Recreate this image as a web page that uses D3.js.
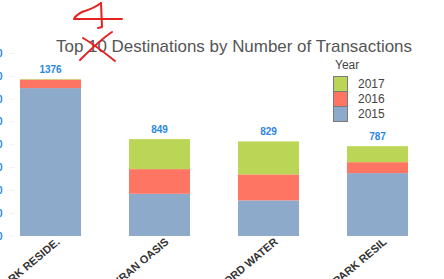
<!DOCTYPE html>
<html><head><meta charset="utf-8">
<script src="https://cdn.jsdelivr.net/npm/d3@7"></script>
<style>html,body{margin:0;padding:0;background:#fff;overflow:hidden}svg{display:block}</style>
</head><body>
<svg id="chart" width="444" height="279"></svg>
<script>
const categories = ["PARK RESIDE.", "SKYRAN OASIS", "FORD WATER", "PARK RESIL"];
const years = ["2015", "2016", "2017"];
const values2015 = [1296, 370, 312, 551];
const values2016 = [75, 216, 228, 96];
const values2017 = [5, 263, 289, 140];
const totals = [1376, 849, 829, 787];
const yTicks = [0, 200, 400, 600, 800, 1000, 1200, 1400, 1600];
const colors = {"2015": "#8eaacb", "2016": "#ff7563", "2017": "#bbd657"};
const titleText = "Top 10 Destinations by Number of Transactions";

const svg = d3.select("#chart");
const x = d3.scaleBand().domain(categories).range([-4, 432]).paddingInner(0.44).paddingOuter(0.22);
const y = d3.scaleLinear().domain([0, 1600]).range([236, 53.4]);

const rows = categories.map((c, i) => ({cat: c, "2015": values2015[i], "2016": values2016[i], "2017": values2017[i]}));
const stacked = d3.stack().keys(years)(rows);

// faint ticks
svg.append("g").selectAll("line").data(yTicks).join("line")
  .attr("x1", 9).attr("x2", 15).attr("y1", d => y(d)).attr("y2", d => y(d))
  .attr("stroke", "#eef2f6").attr("stroke-width", 1);
// tick labels (mostly cut off at left edge, as in the reference)
svg.append("g").selectAll("text").data(yTicks).join("text")
  .attr("x", 2.5).attr("y", d => y(d) + 3.5).attr("text-anchor", "end")
  .attr("font-family", "Liberation Sans, Arial, sans-serif").attr("font-size", 10).attr("font-weight", "bold")
  .attr("fill", "#2b86e2").text(d => d);

// bars
svg.append("g").selectAll("g").data(stacked).join("g")
  .attr("fill", d => colors[d.key])
  .selectAll("rect").data(d => d).join("rect")
  .attr("x", d => x(d.data.cat)).attr("width", x.bandwidth())
  .attr("y", d => y(d[1])).attr("height", d => y(d[0]) - y(d[1]));

// value labels
svg.append("g").selectAll("text").data(categories).join("text")
  .attr("x", d => x(d) + x.bandwidth() / 2).attr("y", (d, i) => y(totals[i]) - 6)
  .attr("text-anchor", "middle").attr("font-family", "Liberation Sans, Arial, sans-serif")
  .attr("font-size", 10).attr("font-weight", "bold").attr("fill", "#2b86e2")
  .text((d, i) => totals[i]);

// x labels
svg.append("g").selectAll("text").data(categories).join("text")
  .attr("transform", d => `translate(${x(d) + x.bandwidth() / 2 + 10},243) rotate(-40)`)
  .attr("text-anchor", "end").attr("font-family", "Liberation Sans, Arial, sans-serif")
  .attr("font-size", 11).attr("font-weight", "bold").attr("fill", "#333")
  .text(d => d);

// title
svg.append("text").attr("x", 56).attr("y", 52)
  .attr("font-family", "Liberation Sans, Arial, sans-serif").attr("font-size", 17).attr("fill", "#555")
  .attr("textLength", 356).attr("lengthAdjust", "spacingAndGlyphs")
  .text(titleText);

// legend
const lg = svg.append("g");
lg.append("text").attr("x", 335).attr("y", 69).attr("font-family", "Liberation Sans, Arial, sans-serif")
  .attr("font-size", 12).attr("fill", "#444").text("Year");
const legendYears = ["2017", "2016", "2015"];
lg.selectAll("rect").data(legendYears).join("rect")
  .attr("x", 333.5).attr("y", (d, i) => 76.5 + i * 15).attr("width", 14).attr("height", 15)
  .attr("fill", d => colors[d]).attr("stroke", "#7a7a7a").attr("stroke-width", 1);
lg.selectAll("text.l").data(legendYears).join("text").attr("class", "l")
  .attr("x", 358).attr("y", (d, i) => 88 + i * 15).attr("font-family", "Liberation Sans, Arial, sans-serif")
  .attr("font-size", 12).attr("fill", "#444").text(d => d);

// hand-drawn annotation
const ann = svg.append("g").attr("fill", "none").attr("stroke", "#e5221f").attr("stroke-width", 2)
  .attr("stroke-linecap", "round").attr("stroke-linejoin", "round");
ann.append("path").attr("d", "M101,3 C95,8 88,10 82,12 C78,14 75,17 74,19 L122,19");
ann.append("path").attr("d", "M101,3 L102,27 L98,28");
ann.append("path").attr("d", "M112,32 C100,40 90,50 80,60");
ann.append("path").attr("d", "M83,38 C95,45 105,53 115,61");
</script>
</body></html>
